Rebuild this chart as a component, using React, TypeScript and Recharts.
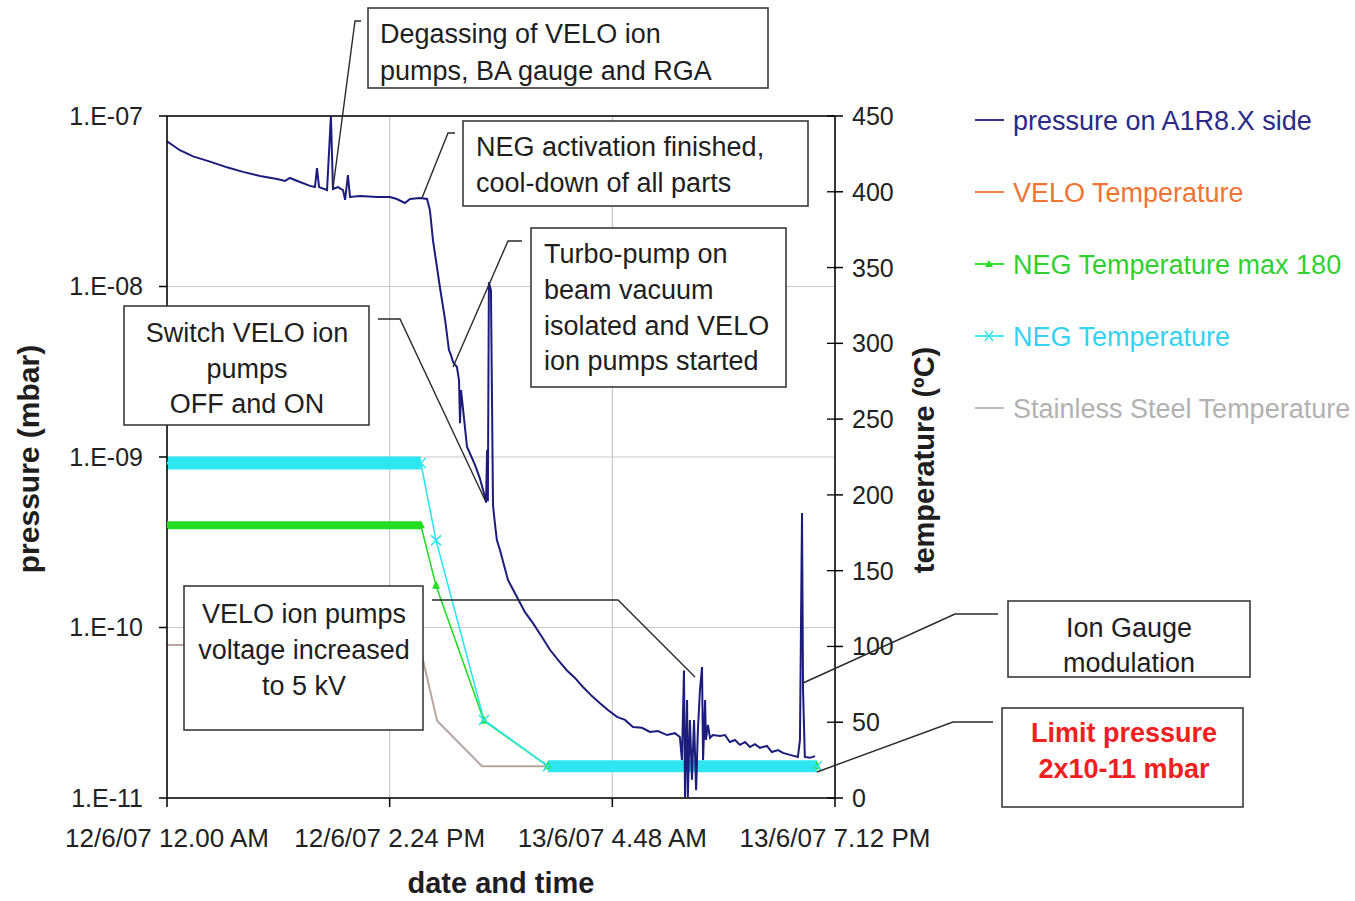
import React from 'react';
import { LineChart, Line, XAxis, YAxis, CartesianGrid, ReferenceLine } from 'recharts';

// ---------- data ----------
// time axis in minutes from 12/6/07 12.00 AM
const timeTicks = [0, 864, 1728, 2592];
const timeTickLabels = ['12/6/07 12.00 AM', '12/6/07 2.24 PM', '13/6/07 4.48 AM', '13/6/07 7.12 PM'];

const pressureTicks = [1e-11, 1e-10, 1e-9, 1e-8, 1e-7];
const pressureTickLabels = ['1.E-11', '1.E-10', '1.E-09', '1.E-08', '1.E-07'];
const temperatureTicks = [0, 50, 100, 150, 200, 250, 300, 350, 400, 450];

const pressureMinutes = [
  0, 50, 101, 167, 233, 295, 361, 427, 458, 477, 516, 555, 574, 582, 590, 621, 636, 644, 663, 683,
  691, 702, 710, 749, 815, 865, 892, 923, 943, 982, 1009, 1020, 1032, 1059, 1079, 1094, 1102, 1110,
  1125, 1133, 1137, 1141, 1164, 1195, 1214, 1230, 1238, 1242, 1245, 1249, 1257, 1265, 1273, 1280,
  1292, 1323, 1358, 1389, 1420, 1455, 1486, 1517, 1552, 1583, 1614, 1649, 1680, 1711, 1746, 1777,
  1808, 1843, 1874, 1905, 1940, 1971, 1990, 1998, 2006, 2010, 2018, 2021, 2029, 2037, 2045, 2053,
  2060, 2068, 2076, 2080, 2088, 2091, 2099, 2107, 2118, 2146, 2165, 2184, 2204, 2223, 2243, 2262,
  2281, 2301, 2328, 2347, 2371, 2390, 2417, 2448, 2456, 2464, 2468, 2475, 2495, 2514,
];
const pressureMbar = [
  7.1e-8, 6.3e-8, 5.8e-8, 5.4e-8, 5.0e-8, 4.7e-8, 4.45e-8, 4.27e-8, 4.16e-8, 4.33e-8, 4.1e-8, 3.89e-8,
  3.83e-8, 4.95e-8, 3.83e-8, 3.68e-8, 1.0e-7, 3.73e-8, 3.83e-8, 3.68e-8,
  3.22e-8, 4.5e-8, 3.35e-8, 3.4e-8, 3.35e-8, 3.35e-8, 3.26e-8, 3.09e-8, 3.26e-8, 3.3e-8, 3.26e-8,
  2.81e-8, 1.87e-8, 9.9e-9, 6.4e-9, 4.24e-9, 3.96e-9, 3.6e-9,
  3.37e-9, 2.83e-9, 1.58e-9, 2.47e-9, 1.15e-9, 8.98e-10, 7.5e-10, 6.1e-10, 5.4e-10, 1.1e-9, 5.5e-10,
  1.06e-8, 9.5e-9, 5.2e-10, 4.0e-10, 3.26e-10,
  2.85e-10, 1.9e-10, 1.51e-10, 1.23e-10, 1.06e-10, 8.8e-11, 7.4e-11, 6.45e-11, 5.6e-11, 5.06e-11,
  4.48e-11, 3.96e-11, 3.6e-11, 3.28e-11, 2.99e-11, 2.87e-11,
  2.61e-11, 2.58e-11, 2.44e-11, 2.47e-11, 2.34e-11, 2.4e-11, 2.28e-11, 1.67e-11, 5.6e-11, 1.01e-11,
  3.76e-11, 1.01e-11, 2.87e-11, 1.28e-11, 2.87e-11, 1.11e-11,
  2.51e-11, 4.3e-11, 5.86e-11, 1.67e-11, 3.76e-11, 2.19e-11, 2.68e-11, 2.25e-11, 2.34e-11, 2.31e-11,
  2.34e-11, 2.13e-11, 2.19e-11, 2.05e-11, 2.13e-11, 1.99e-11,
  2.07e-11, 1.97e-11, 2.02e-11, 1.86e-11, 1.91e-11, 1.84e-11, 1.79e-11, 1.74e-11, 2.19e-11, 4.7e-10,
  4.3e-11, 1.74e-11, 1.72e-11, 1.76e-11,
];

const negTempMinutes = [0, 985, 1044, 1230, 1478, 2522];
const negTempValues = [221, 221, 170, 51.5, 21, 21];

const negMaxMinutes = [0, 985, 1044, 1230, 1478, 2522];
const negMaxValues = [180, 180, 140, 51, 21, 21];

const steelMinutes = [0, 980, 1048, 1222, 1478, 2522];
const steelValues = [101, 101, 51, 21, 21, 21];

// ---------- tables built from the arrays ----------
const pressureData = pressureMinutes.map((t, i) => ({ t, v: pressureMbar[i] }));
const negTempData = negTempMinutes.map((t, i) => ({ t, v: negTempValues[i] }));
const negMaxData = negMaxMinutes.map((t, i) => ({ t, v: negMaxValues[i] }));
const steelData = steelMinutes.map((t, i) => ({ t, v: steelValues[i] }));
// flat (dense-marker) stretches drawn as a thick band
const negTempBandA = negTempData.slice(0, 2);
const negTempBandB = negTempData.slice(4, 6);
const negMaxBandA = negMaxData.slice(0, 2);

const FONT = '"Liberation Sans", Arial, Helvetica, sans-serif';
const C_PRESS = '#1c1c7c';
const C_VELO = '#f07438';
const C_GREEN = '#22dd22';
const C_CYAN = '#2ee6f0';
const C_STEEL = '#b6a6a0';

const RightTick = (props: any) => {
  const { x, y, payload } = props;
  const ax = x - 17;
  return (
    <g>
      <line x1={ax - 8} x2={ax} y1={y} y2={y} stroke="#000" strokeWidth={1.3} />
      <text x={x} y={y} dy="0.36em" textAnchor="start" fontSize={25} fontFamily={FONT} fill="#222">
        {payload.value}
      </text>
    </g>
  );
};

const CrossDot = (props: any) => {
  const { cx, cy, index } = props;
  if (cx == null || cy == null) return <g key={index} />;
  const s = 5;
  return (
    <path key={index} d={`M${cx - s},${cy - s}L${cx + s},${cy + s}M${cx - s},${cy + s}L${cx + s},${cy - s}`}
      stroke={C_CYAN} strokeWidth={1.5} fill="none" />
  );
};

const TriDot = (props: any) => {
  const { cx, cy, index } = props;
  if (cx == null || cy == null) return <g key={index} />;
  return <path key={index} d={`M${cx},${cy - 5}L${cx + 4},${cy + 3}L${cx - 4},${cy + 3}Z`} fill={C_GREEN} />;
};

type BoxProps = {
  x: number; y: number; w: number; h: number; lines: string[]; baselines: number[];
  tx: number; anchor: 'start' | 'middle'; color?: string; bold?: boolean;
};
const Box = ({ x, y, w, h, lines, baselines, tx, anchor, color = '#1e1e1e', bold = false }: BoxProps) => (
  <g>
    <rect x={x} y={y} width={w} height={h} fill="#fff" stroke="#3a3a3a" strokeWidth={1.6} />
    {lines.map((l, i) => (
      <text key={i} x={tx} y={baselines[i]} textAnchor={anchor} fontSize={27} fontFamily={FONT}
        fontWeight={bold ? 700 : 400} fill={color}>{l}</text>
    ))}
  </g>
);

const Leader = ({ pts }: { pts: number[][] }) => (
  <polyline points={pts.map((p) => p.join(',')).join(' ')} fill="none" stroke="#2a2a2a" strokeWidth={1.4} />
);

const legendItems = [
  { label: 'pressure on A1R8.X side', line: C_PRESS, text: '#2b2b86', marker: 'none' },
  { label: 'VELO Temperature', line: C_VELO, text: '#f07434', marker: 'none' },
  { label: 'NEG Temperature max 180', line: C_GREEN, text: '#30d030', marker: 'tri' },
  { label: 'NEG Temperature', line: C_CYAN, text: '#34d2f2', marker: 'cross' },
  { label: 'Stainless Steel Temperature', line: '#b4b4b4', text: '#b2b2b2', marker: 'none' },
];

export default function App() {
  return (
    <div style={{ position: 'absolute', left: 0, top: 0, width: 1355, height: 901, overflow: 'hidden', background: '#fff', fontFamily: FONT }}>
      <LineChart width={1355} height={901} margin={{ top: 116, right: 420, bottom: 13, left: 27 }}>
        <CartesianGrid yAxisId="p" stroke="#c9c9c9" strokeWidth={1.2} />
        <XAxis dataKey="t" type="number" domain={[0, 2592]} ticks={timeTicks} interval={0} allowDataOverflow
          tickFormatter={(v: number) => timeTickLabels[timeTicks.indexOf(v)] ?? ''}
          height={90} tickSize={9} tickMargin={22} stroke="#000" strokeWidth={1.5}
          tick={{ fontSize: 26, fontFamily: FONT, fill: '#222' }} />
        <YAxis yAxisId="p" scale="log" type="number" domain={[1e-11, 1e-7]} ticks={pressureTicks} interval={0}
          allowDataOverflow width={140} tickSize={8} tickMargin={16} stroke="#000" strokeWidth={1.5}
          tickFormatter={(v: number) => pressureTickLabels[pressureTicks.indexOf(v)] ?? ''}
          tick={{ fontSize: 25, fontFamily: FONT, fill: '#222' }} />
        <YAxis yAxisId="temp" orientation="right" type="number" domain={[0, 450]} ticks={temperatureTicks}
          interval={0} width={100} tickSize={8} tickMargin={9} stroke="#000" strokeWidth={1.5}
          tick={<RightTick />} />
        <ReferenceLine yAxisId="p" y={1e-7} stroke="#000" strokeWidth={1.5} />

        <Line yAxisId="temp" data={steelData} dataKey="v" stroke={C_STEEL} strokeWidth={2} dot={false}
          activeDot={false} isAnimationActive={false} type="linear" />
        <Line yAxisId="temp" data={negMaxBandA} dataKey="v" stroke={C_GREEN} strokeWidth={8} dot={false}
          activeDot={false} isAnimationActive={false} type="linear" legendType="none" />
        <Line yAxisId="temp" data={negMaxData} dataKey="v" stroke={C_GREEN} strokeWidth={1.6} dot={<TriDot />}
          activeDot={false} isAnimationActive={false} type="linear" />
        <Line yAxisId="temp" data={negTempBandA} dataKey="v" stroke={C_CYAN} strokeWidth={13} dot={false}
          activeDot={false} isAnimationActive={false} type="linear" legendType="none" />
        <Line yAxisId="temp" data={negTempBandB} dataKey="v" stroke={C_CYAN} strokeWidth={12} dot={false}
          activeDot={false} isAnimationActive={false} type="linear" legendType="none" />
        <Line yAxisId="temp" data={negTempData} dataKey="v" stroke={C_CYAN} strokeWidth={1.6} dot={<CrossDot />}
          activeDot={false} isAnimationActive={false} type="linear" />
        <Line yAxisId="p" data={pressureData} dataKey="v" stroke={C_PRESS} strokeWidth={2} dot={false}
          activeDot={false} isAnimationActive={false} type="linear" />
      </LineChart>

      <svg width={1355} height={901} style={{ position: 'absolute', left: 0, top: 0, pointerEvents: 'none' }}>
        {/* axis titles */}
        <text x={39} y={459} transform="rotate(-90, 39, 459)" textAnchor="middle" fontSize={30} fontWeight={700}
          fontFamily={FONT} fill="#1e1e1e">pressure (mbar)</text>
        <text x={934} y={460} transform="rotate(-90, 934, 460)" textAnchor="middle" fontSize={29} fontWeight={700}
          fontFamily={FONT} fill="#1e1e1e">temperature (ºC)</text>
        <text x={501} y={893} textAnchor="middle" fontSize={29} fontWeight={700} fontFamily={FONT} fill="#1e1e1e">date and time</text>

        {/* legend */}
        {legendItems.map((it, i) => {
          const cy = 120 + i * 72;
          return (
            <g key={i}>
              <line x1={975} x2={1004} y1={cy} y2={cy} stroke={it.line} strokeWidth={1.8} />
              {it.marker === 'tri' && <path d={`M989,${cy - 4}L993,${cy + 3}L985,${cy + 3}Z`} fill={it.line} />}
              {it.marker === 'cross' && (
                <path d={`M985,${cy - 5}L993,${cy + 5}M985,${cy + 5}L993,${cy - 5}`} stroke={it.line} strokeWidth={1.5} />
              )}
              <text x={1013} y={cy + 9.5} fontSize={27} fontFamily={FONT} fill={it.text}>{it.label}</text>
            </g>
          );
        })}

        {/* leader lines */}
        <Leader pts={[[361, 21], [355, 21], [333, 188]]} />
        <Leader pts={[[455, 133], [448, 133], [422, 198]]} />
        <Leader pts={[[522, 241], [508, 241], [453, 367]]} />
        <Leader pts={[[378, 319], [400, 319], [485, 500]]} />
        <Leader pts={[[432, 600], [618, 600], [695, 677]]} />
        <Leader pts={[[998, 614], [955, 614], [803, 683]]} />
        <Leader pts={[[993, 722], [953, 722], [817, 772]]} />

        {/* annotation boxes */}
        <Box x={368} y={8} w={400} h={80} lines={['Degassing of VELO ion', 'pumps, BA gauge and RGA']}
          baselines={[43, 80]} tx={380} anchor="start" />
        <Box x={463} y={121} w={345} h={85} lines={['NEG activation finished,', 'cool-down of all parts']}
          baselines={[156, 192]} tx={476} anchor="start" />
        <Box x={531} y={228} w={255} h={159}
          lines={['Turbo-pump on', 'beam vacuum', 'isolated and VELO', 'ion pumps started']}
          baselines={[263, 299, 335, 370]} tx={544} anchor="start" />
        <Box x={124} y={306} w={245} h={119} lines={['Switch VELO ion', 'pumps', 'OFF and ON']}
          baselines={[342, 378, 413]} tx={247} anchor="middle" />
        <Box x={184} y={586} w={239} h={144} lines={['VELO ion pumps', 'voltage increased', 'to 5 kV']}
          baselines={[623, 659, 695]} tx={304} anchor="middle" />
        <Box x={1008} y={601} w={242} h={76} lines={['Ion Gauge', 'modulation']}
          baselines={[637, 672]} tx={1129} anchor="middle" />
        <Box x={1002} y={708} w={241} h={99} lines={['Limit pressure', '2x10-11 mbar']}
          baselines={[742, 778]} tx={1124} anchor="middle" color="#ee2020" bold />
      </svg>
    </div>
  );
}
